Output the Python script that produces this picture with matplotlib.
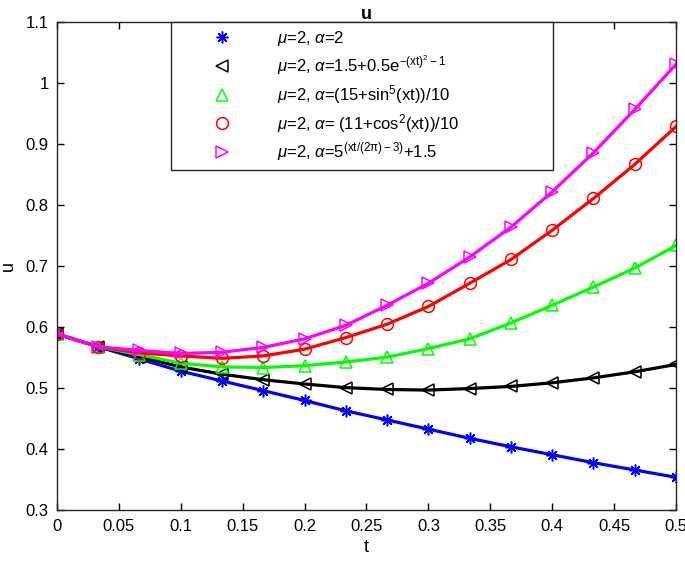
import numpy as np
import matplotlib.pyplot as plt
from matplotlib.ticker import FormatStrFormatter

plt.rcParams['font.family'] = 'Liberation Sans'
plt.rcParams['mathtext.fontset'] = 'custom'
plt.rcParams['mathtext.rm'] = 'Liberation Sans'
plt.rcParams['mathtext.it'] = 'Liberation Sans:italic'
plt.rcParams['font.size'] = 12

t = [0, 0.0333, 0.0667, 0.1, 0.1333, 0.1667, 0.2, 0.2333,
     0.2667, 0.3, 0.3333, 0.3667, 0.4, 0.4333, 0.4667, 0.5]

u_a2 = [0.589, 0.568, 0.548, 0.528, 0.512, 0.496, 0.480, 0.463,
        0.448, 0.433, 0.418, 0.404, 0.391, 0.378, 0.366, 0.354]
u_exp = [0.589, 0.568, 0.552, 0.535, 0.523, 0.514, 0.507, 0.501,
         0.498, 0.497, 0.4995, 0.503, 0.509, 0.517, 0.527, 0.539]
u_sin = [0.589, 0.568, 0.555, 0.541, 0.535, 0.534, 0.537, 0.543,
         0.551, 0.565, 0.581, 0.607, 0.636, 0.666, 0.697, 0.734]
u_cos = [0.589, 0.568, 0.558, 0.553, 0.549, 0.553, 0.564, 0.583,
         0.605, 0.634, 0.672, 0.711, 0.759, 0.811, 0.867, 0.929]
u_pow = [0.589, 0.568, 0.562, 0.557, 0.559, 0.567, 0.581, 0.603,
         0.636, 0.672, 0.715, 0.764, 0.822, 0.886, 0.957, 1.031]

labels = [r'$\mu$=2, $\alpha$=2',
          r'$\mu$=2, $\alpha$=1.5+0.5e$^{\mathrm{-(xt)^{2}-1}}$',
          r'$\mu$=2, $\alpha$=(15+sin$^{5}$(xt))/10',
          r'$\mu$=2, $\alpha$= (11+cos$^{2}$(xt))/10',
          r'$\mu$=2, $\alpha$=5$^{\mathrm{(xt/(2\pi)-3)}}$+1.5']

series = [u_a2, u_exp, u_sin, u_cos, u_pow]
colores = ['#0000ff', '#000000', '#00ff00', '#ff0000', '#ff00ff']
marcas = [(8, 2, 0), '<', '^', 'o', '>']

fig = plt.figure(figsize=(6.85, 5.67), dpi=100)
ax = fig.add_axes([0.083, 0.1, 0.904, 0.861])

handles = []
for y, c, m, lab in zip(series, colores, marcas, labels):
    ax.plot(t, y, color=c, lw=2.3)
    h, = ax.plot(t, y, ls='none', marker=m, ms=8.5, mfc='none', mec=c,
                 mew=1.1, label=lab)
    handles.append(h)

ax.set_xlim(0, 0.5)
ax.set_ylim(0.3, 1.1)
ax.set_xticks(np.arange(0, 0.501, 0.05))
ax.set_yticks(np.arange(0.3, 1.101, 0.1))
ax.xaxis.set_major_formatter(FormatStrFormatter('%g'))
ax.yaxis.set_major_formatter(FormatStrFormatter('%g'))
ax.tick_params(direction='in', top=True, right=True, length=5, width=1,
               labelsize=12, pad=6)
for s in ax.spines.values():
    s.set_linewidth(1)
    s.set_color('#262626')

ax.set_xlabel('t', fontsize=13, labelpad=4)
ax.set_ylabel('u', fontsize=13, labelpad=6)
ax.set_title('u', fontsize=13, fontweight='bold', pad=2)

leg = ax.legend(handles=handles, loc='upper left',
                bbox_to_anchor=(0.184, 1.0, 0.617, 0.0), mode='expand',
                borderaxespad=0, handlelength=5.4, handletextpad=0.6,
                labelspacing=0.35, borderpad=0.4, fancybox=False,
                framealpha=1, edgecolor='#262626', fontsize=12)
leg.get_frame().set_linewidth(1)

plt.savefig('out.png', dpi=100)
